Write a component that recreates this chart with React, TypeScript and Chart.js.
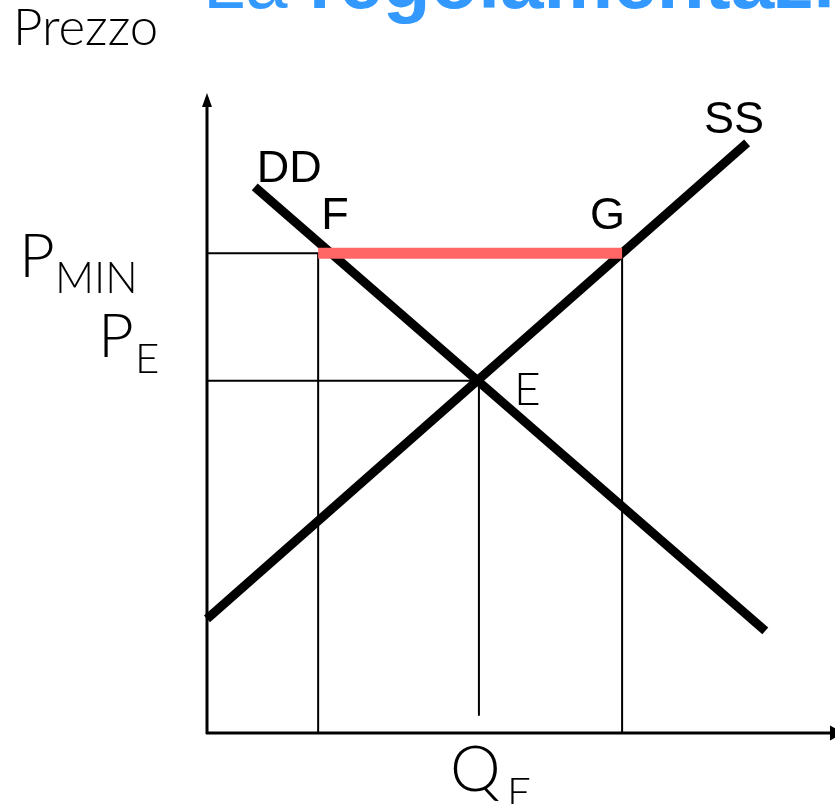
import React, { useEffect, useRef } from "react";
import { Chart, registerables } from "chart.js";

Chart.register(...registerables);

// ---- data (quantity on x, price on y, arbitrary 0..100 units) ----
const demandQ = [7.6, 88.9];
const demandP = [85.6, 16.0];
const supplyQ = [0, 86.0];
const supplyP = [17.9, 92.5];
const quantityLevels = [17.7, 43.3, 66.1]; // Q at F, Q_E, Q at G
const priceLevels = [75.2, 55.2]; // P_MIN, P_E
const qeGuideEnd = [2.7]; // the Q_E guide stops just above the axis
const axisRange = [0, 100];

// ---- texts ----
const titleParts = ["La ", "regolamentazione"];
const yAxisTitle = "Prezzo";
const curveLabels = ["DD", "SS"];
const pointLabels = ["F", "G", "E"];
const priceLabels = [["P", "MIN"], ["P", "E"]];
const quantityLabel = ["Q", "E"];

const ARIAL = '"Liberation Sans", Arial, sans-serif';
const THIN = 'Lato, "Noto Sans", sans-serif';

const decorPlugin = {
  id: "decor",
  beforeDatasetsDraw(chart: any) {
    const { ctx, chartArea } = chart;
    const { left, right, top, bottom } = chartArea;
    ctx.save();
    ctx.strokeStyle = "#000";
    ctx.fillStyle = "#000";
    ctx.lineWidth = 3;
    // y axis
    ctx.beginPath();
    ctx.moveTo(left, bottom + 1);
    ctx.lineTo(left, top + 8);
    ctx.stroke();
    ctx.beginPath();
    ctx.moveTo(left, top - 2);
    ctx.lineTo(left - 5, top + 12);
    ctx.lineTo(left + 5, top + 12);
    ctx.closePath();
    ctx.fill();
    // x axis
    ctx.beginPath();
    ctx.moveTo(left - 1, bottom);
    ctx.lineTo(right - 4, bottom);
    ctx.stroke();
    ctx.beginPath();
    ctx.moveTo(right + 9, bottom);
    ctx.lineTo(right - 5, bottom - 7.5);
    ctx.lineTo(right - 5, bottom + 7.5);
    ctx.closePath();
    ctx.fill();
    ctx.restore();
  },
  afterDraw(chart: any) {
    const { ctx, chartArea } = chart;
    const xs = chart.scales.x;
    const ys = chart.scales.y;
    const px = (v: number) => xs.getPixelForValue(v);
    const py = (v: number) => ys.getPixelForValue(v);
    const { left, bottom } = chartArea;
    ctx.save();
    ctx.textAlign = "left";
    ctx.textBaseline = "alphabetic";

    // title (cut off by the top edge)
    ctx.fillStyle = "#3399FF";
    ctx.font = `76px ${ARIAL}`;
    const tx = left - 4;
    ctx.fillText(titleParts[0], tx, 8);
    const w0 = ctx.measureText(titleParts[0]).width;
    ctx.font = `bold 76px ${ARIAL}`;
    const wPart = ctx.measureText(titleParts[1].slice(0, 12)).width;
    const boldSize = Math.max(50, Math.min(90, (76 * 505) / wPart));
    ctx.font = `bold ${boldSize.toFixed(1)}px ${ARIAL}`;
    ctx.fillText(titleParts[1], tx + w0, 8);

    ctx.fillStyle = "#000";
    // y axis title
    ctx.font = `300 51px ${THIN}`;
    ctx.fillText(yAxisTitle, 13, 45);

    // curve labels
    ctx.font = `45px ${ARIAL}`;
    ctx.fillText(curveLabels[0], px(demandQ[0]) + 2, py(demandP[0]) - 5);
    ctx.fillText(curveLabels[1], px(supplyQ[1]) - 43, py(supplyP[1]) - 10);
    // F and G
    ctx.fillText(pointLabels[0], px(quantityLevels[0]) + 3, py(priceLevels[0]) - 24);
    ctx.fillText(pointLabels[1], px(quantityLevels[2]) - 32, py(priceLevels[0]) - 24);
    // E
    ctx.font = `300 46px ${THIN}`;
    ctx.fillText(pointLabels[2], px(quantityLevels[1]) + 35, py(priceLevels[1]) + 24);

    // price labels
    ctx.font = `300 62px ${THIN}`;
    ctx.fillText(priceLabels[0][0], left - 188, py(priceLevels[0]) + 24);
    ctx.font = `300 43px ${THIN}`;
    ctx.fillText(priceLabels[0][1], left - 152, py(priceLevels[0]) + 40);
    ctx.font = `300 62px ${THIN}`;
    ctx.fillText(priceLabels[1][0], left - 109, py(priceLevels[1]) - 24);
    ctx.font = `300 42px ${THIN}`;
    ctx.fillText(priceLabels[1][1], left - 72, py(priceLevels[1]) - 8);

    // quantity label
    ctx.font = `300 64px ${THIN}`;
    ctx.fillText(quantityLabel[0], px(quantityLevels[1]) - 29, bottom + 58);
    ctx.font = `300 42px ${THIN}`;
    ctx.fillText(quantityLabel[1], px(quantityLevels[1]) + 28, bottom + 74);
    ctx.restore();
  },
};

function lineSet(points: { x: number; y: number }[], color: string, width: number) {
  return {
    data: points,
    showLine: true,
    borderColor: color,
    backgroundColor: color,
    borderWidth: width,
    borderCapStyle: "butt",
    borderJoinStyle: "miter",
    pointRadius: 0,
    pointHoverRadius: 0,
    tension: 0,
    fill: false,
    clip: false,
  };
}

export default function App() {
  const canvasRef = useRef<HTMLCanvasElement | null>(null);

  useEffect(() => {
    let chart: Chart | null = null;
    let cancelled = false;
    const [qF, qE, qG] = quantityLevels;
    const [pMin, pE] = priceLevels;

    const build = () => {
      if (cancelled || !canvasRef.current) return;
      chart = new Chart(canvasRef.current, {
        type: "scatter",
        data: {
          datasets: [
            lineSet([{ x: qF, y: pMin }, { x: qG, y: pMin }], "#FF6666", 11),
            lineSet(demandQ.map((q, i) => ({ x: q, y: demandP[i] })), "#000", 9),
            lineSet(supplyQ.map((q, i) => ({ x: q, y: supplyP[i] })), "#000", 9),
            lineSet([{ x: axisRange[0], y: pMin }, { x: qF, y: pMin }, { x: qF, y: axisRange[0] }], "#000", 2),
            lineSet([{ x: axisRange[0], y: pE }, { x: qE, y: pE }, { x: qE, y: qeGuideEnd[0] }], "#000", 2),
            lineSet([{ x: qG, y: pMin }, { x: qG, y: axisRange[0] }], "#000", 2),
          ] as any,
        },
        options: {
          animation: false,
          responsive: false,
          maintainAspectRatio: false,
          devicePixelRatio: 1,
          events: [],
          layout: { padding: { left: 207, right: 0, top: 95, bottom: 71 } },
          scales: {
            x: { type: "linear", min: axisRange[0], max: axisRange[1], display: false },
            y: { type: "linear", min: axisRange[0], max: axisRange[1], display: false },
          },
          plugins: {
            legend: { display: false },
            tooltip: { enabled: false },
            title: { display: false },
          },
        } as any,
        plugins: [decorPlugin],
      });
    };

    const fonts = [
      `300 47px Lato`,
      `300 62px Lato`,
      `45px "Liberation Sans"`,
      `bold 76px "Liberation Sans"`,
    ];
    Promise.all(fonts.map((f) => (document as any).fonts.load(f).catch(() => null)))
      .then(build, build);

    return () => {
      cancelled = true;
      if (chart) chart.destroy();
    };
  }, []);

  return (
    <div style={{ position: "fixed", left: 0, top: 0, width: 835, height: 804, background: "#fff" }}>
      <canvas ref={canvasRef} width={835} height={804} style={{ width: 835, height: 804, display: "block" }} />
    </div>
  );
}
